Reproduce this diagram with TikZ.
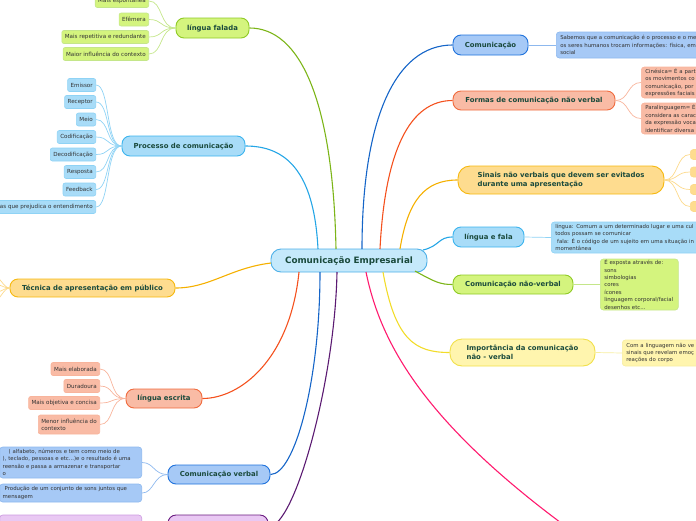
\documentclass[tikz,border=0pt]{standalone}
\usepackage{fontspec}
\setmainfont{DejaVu Sans}
\definecolor{maintext}{HTML}{1A4A3C}
\definecolor{leaftext}{HTML}{333333}
\definecolor{centerfill}{HTML}{C5E9FB}
\definecolor{centerdraw}{HTML}{4DB0E8}
\definecolor{bluefill}{HTML}{A6C9F6}
\definecolor{bluedraw}{HTML}{1F72DC}
\definecolor{blueline}{HTML}{1565C8}
\definecolor{blueleaf}{HTML}{8DB8EE}
\definecolor{cyanfill}{HTML}{A8DCF8}
\definecolor{cyandraw}{HTML}{3CB4EE}
\definecolor{cyanline}{HTML}{25A6E6}
\definecolor{cyanleaf}{HTML}{8FD3F5}
\definecolor{greenfill}{HTML}{D4F47E}
\definecolor{greendraw}{HTML}{8FCA25}
\definecolor{greenline}{HTML}{7CB518}
\definecolor{greenleaf}{HTML}{C4E68A}
\definecolor{salmonfill}{HTML}{F9BBA5}
\definecolor{salmondraw}{HTML}{F06B3E}
\definecolor{orangeline}{HTML}{F4511E}
\definecolor{salmonleaf}{HTML}{F8B49C}
\definecolor{goldfill}{HTML}{FEDC8F}
\definecolor{golddraw}{HTML}{F6B80F}
\definecolor{goldline}{HTML}{F5B000}
\definecolor{goldleaf}{HTML}{FCD98A}
\definecolor{yellowfill}{HTML}{FFF5AE}
\definecolor{yellowdraw}{HTML}{F1E04A}
\definecolor{yellowline}{HTML}{F2DC2A}
\definecolor{yellowleaf}{HTML}{F7EEA0}
\definecolor{purplefill}{HTML}{E9C8F3}
\definecolor{purpledraw}{HTML}{6A1B80}
\definecolor{purpleline}{HTML}{5B1A72}
\definecolor{purpleleaf}{HTML}{CC99E0}
\definecolor{pinkline}{HTML}{FF1A6E}
\tikzset{
  centerbox/.style={draw=centerdraw, fill=centerfill, line width=0.9pt, rounded corners=10pt,
    inner sep=0pt, text=maintext, font=\fontsize{8.8}{10}\selectfont\bfseries,
    minimum width=156pt, minimum height=23pt},
  topic/.style={line width=0.9pt, rounded corners=8pt, inner sep=0pt, text=maintext,
    font=\fontsize{6.9}{8.6}\selectfont\bfseries, align=left},
  leaf/.style={line width=0.6pt, rounded corners=2pt, inner xsep=3pt, inner ysep=0pt,
    text=leaftext, font=\fontsize{5.6}{7.4}\selectfont, minimum height=13pt, align=left},
  rleaf/.style={line width=0.6pt, rounded corners=3pt, inner xsep=4pt, inner ysep=0pt,
    text=leaftext, font=\fontsize{5.4}{7.4}\selectfont, align=left},
  tgreen/.style={fill=greenfill, draw=greendraw},
  tblue/.style={fill=bluefill, draw=bluedraw},
  tcyan/.style={fill=cyanfill, draw=cyandraw},
  tsalmon/.style={fill=salmonfill, draw=salmondraw},
  tgold/.style={fill=goldfill, draw=golddraw},
  tyellow/.style={fill=yellowfill, draw=yellowdraw},
  tpurple/.style={fill=purplefill, draw=purpledraw},
  lgreen/.style={fill=greenfill, draw=greenleaf},
  lblue/.style={fill=bluefill, draw=blueleaf},
  lcyan/.style={fill=cyanfill, draw=cyanleaf},
  lsalmon/.style={fill=salmonfill, draw=salmonleaf},
  lgold/.style={fill=goldfill, draw=goldleaf},
  lyellow/.style={fill=yellowfill, draw=yellowleaf},
  lpurple/.style={fill=purplefill, draw=purpleleaf},
  branch/.style={line width=1.1pt},
  twig/.style={line width=0.7pt},
}
\begin{document}
\begin{tikzpicture}[x=1pt,y=-1pt]
\useasboundingbox (0,0) rectangle (696,520);
\clip (0,0) rectangle (696,520);

% ---------- nodes ----------
\node[centerbox] (C) at (349,260.5) {Comunicação Empresarial};

\node[topic,tblue,minimum width=75pt,minimum height=20pt] (com) at (490.5,45) {Comunicação};
\node[topic,tsalmon,minimum width=162pt,minimum height=19pt] (formas) at (534,100.5) {Formas de comunicação não verbal};
\node[topic,tgold,minimum width=206pt,minimum height=28pt,rounded corners=12pt] (sinais) at (561,180) {Sinais não verbais que devem ser evitados\\durante uma apresentação};
\node[topic,tcyan,minimum width=71pt,minimum height=20pt] (lef) at (488.5,237) {língua e fala};
\node[topic,tgreen,minimum width=120pt,minimum height=19pt] (cnv) at (513,284.5) {Comunicação não-verbal};
\node[topic,tyellow,minimum width=145pt,minimum height=27pt,rounded corners=12pt] (imp) at (522.5,352.5) {Importância da comunicação\\não - verbal};

\node[topic,tgreen,minimum width=73pt,minimum height=20pt] (lf) at (212.5,28) {língua falada};
\node[topic,tcyan,minimum width=123pt,minimum height=20pt] (proc) at (183.5,146) {Processo de comunicação};
\node[topic,tgold,minimum width=165pt,minimum height=18pt] (tec) at (92.5,288) {Técnica de apresentação em público};
\node[topic,tsalmon,minimum width=76pt,minimum height=19pt] (le) at (164,398.5) {língua escrita};
\node[topic,tblue,minimum width=102pt,minimum height=19pt] (cv) at (219,474.5) {Comunicação verbal};
\node[topic,tpurple,minimum width=100pt,minimum height=24pt] (pur) at (218,527) {};

% right children
\node[rleaf,lblue,anchor=west,text width=200pt,minimum height=26pt] (comc) at (556,45)
  {\mbox{Sabemos que a comunicação é o processo e o me}\\\mbox{os seres humanos trocam informações: física, em}\\social};
\node[rleaf,lsalmon,anchor=west,text width=120pt,minimum height=31pt] (cin) at (641,82.5)
  {Cinésica= É a part\\os movimentos co\\comunicação, por\\expressões faciais};
\node[rleaf,lsalmon,anchor=west,text width=120pt,minimum height=31pt] (para) at (641,118.5)
  {Paralinguagem= É\\considera as carac\\da expressão voca\\identificar diversa};
\node[rleaf,lgold,anchor=west,minimum width=30pt,minimum height=10pt] (k1) at (690,154.5) {};
\node[rleaf,lgold,anchor=west,minimum width=30pt,minimum height=10pt] (k2) at (690,172) {};
\node[rleaf,lgold,anchor=west,minimum width=30pt,minimum height=10pt] (k3) at (690,189.5) {};
\node[rleaf,lgold,anchor=west,minimum width=30pt,minimum height=10pt] (k4) at (690,206.5) {};
\node[rleaf,lcyan,anchor=west,text width=200pt,minimum height=31pt] (lefc) at (551,237.5)
  {\mbox{língua: Comum a um determinado lugar e uma cul}\\todos possam se comunicar\\\mbox{\ fala: É o código de um sujeito em uma situação in}\\momentânea};
\node[rleaf,lgreen,anchor=west,text width=70pt,minimum height=51pt] (cnvc) at (600,284.5)
  {É exposta através de:\\sons\\simbologias\\cores\\ícones\\\mbox{linguagem corporal/facial}\\desenhos etc...};
\node[rleaf,lyellow,anchor=west,text width=120pt,minimum height=26pt] (impc) at (622,353)
  {Com a linguagem não ve\\sinais que revelam emoç\\reações do corpo};

% left children: língua falada
\node[leaf,lgreen,anchor=east] (f1) at (149,1) {Mais espontânea};
\node[leaf,lgreen,anchor=east] (f2) at (149,19.5) {Efêmera};
\node[leaf,lgreen,anchor=east] (f3) at (149,37) {Mais repetitiva e redundante};
\node[leaf,lgreen,anchor=east] (f4) at (149,54) {Maior influência do contexto};
% processo
\node[leaf,lcyan,anchor=east] (p1) at (96,85) {Emissor};
\node[leaf,lcyan,anchor=east] (p2) at (96,102) {Receptor};
\node[leaf,lcyan,anchor=east] (p3) at (96,119.5) {Meio};
\node[leaf,lcyan,anchor=east] (p4) at (96,137) {Codificação};
\node[leaf,lcyan,anchor=east] (p5) at (96,154.5) {Decodificação};
\node[leaf,lcyan,anchor=east] (p6) at (96,172) {Resposta};
\node[leaf,lcyan,anchor=east] (p7) at (96,189.5) {Feedback};
\node[leaf,lcyan,anchor=east] (p8) at (96,207) {Barreiras que prejudica o entendimento};
% escrita
\node[leaf,lsalmon,anchor=east] (e1) at (100,369) {Mais elaborada};
\node[leaf,lsalmon,anchor=east] (e2) at (100,386) {Duradoura};
\node[leaf,lsalmon,anchor=east] (e3) at (100,403) {Mais objetiva e concisa};
\node[leaf,lsalmon,anchor=east,minimum height=19pt] (e4) at (100,424.5) {Menor influência do\\contexto};
% verbal
\node[rleaf,lblue,anchor=east,text width=136pt,inner xsep=3pt,minimum height=31pt] (v1) at (142,462.5)
  {\mbox{\hspace*{6pt}( alfabeto, números e tem como meio de}\\\mbox{), teclado, pessoas e etc...)e o resultado é uma}\\\mbox{reensão e passa a armazenar e transportar}\\o};
\node[rleaf,lblue,anchor=east,text width=136pt,inner xsep=3pt,minimum height=18pt] (v2) at (142,493)
  {\mbox{\hspace*{2pt}Produção de um conjunto de sons juntos que}\\mensagem};
\node[rleaf,lpurple,anchor=east,text width=136pt,inner xsep=3pt,minimum height=32pt] (u1) at (142,531) {};

% ---------- main branches ----------
\coordinate (s1) at (362,249);
\coordinate (s2) at (380,249);
\coordinate (s3) at (400,249);
\coordinate (s4) at (423,250);
\coordinate (s5) at (415,271);
\coordinate (s6) at (383,272);
\coordinate (s7) at (366,272);
\coordinate (pinkend) at (572,531);
\coordinate (s8) at (336,249);
\coordinate (s9) at (318,249);
\coordinate (s10) at (271,263);
\coordinate (s11) at (299,272);
\coordinate (s12) at (320,272);
\coordinate (s13) at (337,272);

\draw[branch,blueline] (s1) .. controls (362,120) and (395,45) .. (com.west);
\draw[branch,orangeline] (s2) .. controls (385,150) and (410,100.5) .. (formas.west);
\draw[branch,goldline] (s3) .. controls (408,200) and (425,180) .. (sinais.west);
\draw[branch,cyanline] (s4) .. controls (440,246) and (438,237) .. (lef.west);
\draw[branch,greenline] (s5) .. controls (435,282) and (440,284.5) .. (cnv.west);
\draw[branch,yellowline] (s6) .. controls (395,340) and (415,352.5) .. (imp.west);
\draw[branch,pinkline] (s7) .. controls (380,340) and (420,420) .. (pinkend);
\draw[branch,greenline] (s8) .. controls (333,100) and (300,28) .. (lf.east);
\draw[branch,cyanline] (s9) .. controls (314,170) and (285,146) .. (proc.east);
\draw[branch,goldline] (s10) .. controls (230,268) and (210,288) .. (tec.east);
\draw[branch,orangeline] (s11) .. controls (290,360) and (240,398.5) .. (le.east);
\draw[branch,blueline] (s12) .. controls (320,380) and (295,474.5) .. (cv.east);
\draw[branch,purpleline] (s13) .. controls (335,380) and (295,527) .. (pur.east);

% ---------- twigs ----------
\draw[twig,blueleaf] (com.east) -- (comc.west);
\foreach \k in {cin,para} \draw[twig,salmonleaf] (formas.east) .. controls +(14,0) and +(-14,0) .. (\k.west);
\foreach \k in {k1,k2,k3,k4} \draw[twig,goldleaf] (sinais.east) .. controls +(14,0) and +(-14,0) .. (\k.west);
\draw[twig,cyanleaf] (lef.east) -- (lefc.west);
\draw[twig,greenleaf] (cnv.east) -- (cnvc.west);
\draw[twig,yellowleaf] (imp.east) -- (impc.west);
\foreach \k in {f1,f2,f3,f4} \draw[twig,greenleaf] (lf.west) .. controls +(-16,0) and +(14,0) .. (\k.east);
\foreach \k in {p1,p2,p3,p4,p5,p6,p7,p8} \draw[twig,cyanleaf] (proc.west) .. controls +(-16,0) and +(14,0) .. (\k.east);
\foreach \k in {e1,e2,e3,e4} \draw[twig,salmonleaf] (le.west) .. controls +(-16,0) and +(14,0) .. (\k.east);
\foreach \k in {v1,v2} \draw[twig,blueleaf] (cv.west) .. controls +(-14,0) and +(12,0) .. (\k.east);
\draw[twig,purpleleaf] (pur.west) .. controls +(-14,0) and +(12,0) .. (u1.east);
\coordinate (t1) at (-6,276);
\coordinate (t2) at (-6,284);
\coordinate (t3) at (-6,293);
\coordinate (t4) at (-6,301);
\foreach \k in {t1,t2,t3,t4} \draw[twig,goldleaf] (tec.west) .. controls +(-6,0) and +(6,0) .. (\k);
\end{tikzpicture}
\end{document}
